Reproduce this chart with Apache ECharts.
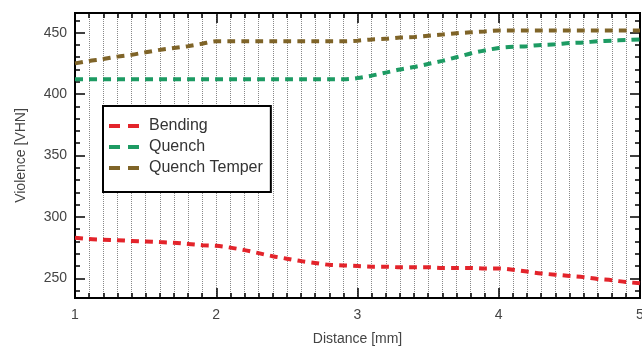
<!DOCTYPE html>
<html>
<head>
<meta charset="utf-8">
<script src="https://cdn.jsdelivr.net/npm/echarts@6/dist/echarts.min.js"></script>
<style>
  html, body { margin: 0; padding: 0; background: #fff; }
  #chart { width: 642px; height: 350px; }
</style>
</head>
<body>
<div id="chart"></div>
<script>
// distance [mm], one sample every 0.1
const distance = [1.0, 1.1, 1.2, 1.3, 1.4, 1.5, 1.6, 1.7, 1.8, 1.9,
    2.0, 2.1, 2.2, 2.3, 2.4, 2.5, 2.6, 2.7, 2.8, 2.9,
    3.0, 3.1, 3.2, 3.3, 3.4, 3.5, 3.6, 3.7, 3.8, 3.9,
    4.0, 4.1, 4.2, 4.3, 4.4, 4.5, 4.6, 4.7, 4.8, 4.9, 5.0]

const bending = [283, 282, 281.5, 281, 280.5, 280, 279.5, 279, 278, 277,
    276.5, 275, 273, 270.5, 268, 266, 264, 262.5, 261, 260.5,
    260, 259.5, 259.5, 259, 259, 259, 258.5, 258.5, 258.5, 258,
    258, 257, 255.5, 254, 253, 252, 251, 249.5, 248.5, 247, 246]

const quench = [412, 412, 412, 412, 412, 412, 412, 412, 412, 412,
    412, 412, 412, 412, 412, 412, 412, 412, 412, 412,
    413, 415, 417.5, 420, 422, 424.5, 427, 430, 433, 435.5,
    437.5, 438.5, 439, 440, 440.5, 441.5, 442, 443, 443.5, 444, 444.5]

const quenchTemper = [425, 427, 428.5, 430.5, 432, 434, 436, 437.5, 439, 441,
    443, 443, 443, 443, 443, 443, 443, 443, 443, 443,
    443.5, 444.5, 445, 446, 446.5, 447.5, 448.5, 449.5, 450.3, 451,
    451.7, 451.7, 451.7, 451.7, 451.7, 451.7, 451.7, 451.7, 451.7, 451.7, 451.7]

const yLabels = [250, 300, 350, 400, 450]
const yMinorTicks = [240, 250, 260, 270, 280, 290, 300, 310, 320, 330, 340, 350, 360,
    370, 380, 390, 400, 410, 420, 430, 440, 450, 460]

const seriesNames = ['Bending', 'Quench', 'Quench Temper']
const seriesColors = ['#e3242b', '#1d9b63', '#7f6428']

const chart = echarts.init(document.getElementById('chart'))

function pairs(ys) {
    return distance.map((x, i) => [x, ys[i]])
}

// two-dash icon, like the legend of the original
const dashIcon = 'path://M0,0h11v4h-11z M19,0h11v4h-11z'

const yRange = { min: 234, max: 466 }

function yTickAxis(pos, values, len, showLabel) {
    return {
        type: 'value',
        position: pos,
        min: yRange.min,
        max: yRange.max,
        axisLine: { show: true, lineStyle: { color: '#000', width: 2 } },
        axisTick: { show: true, inside: true, length: len, customValues: values, lineStyle: { color: '#000', width: 1.5 } },
        axisLabel: showLabel ? { show: true, customValues: yLabels, color: '#444', fontSize: 14, margin: 8, fontFamily: 'Liberation Sans' } : { show: false },
        splitLine: { show: false }
    }
}

const yAxes = [
    Object.assign(yTickAxis('left', yMinorTicks, 5, true), {
        name: 'Violence [VHN]',
        nameLocation: 'middle',
        nameGap: 47,
        nameTextStyle: { color: '#444', fontSize: 14, fontFamily: 'Liberation Sans' }
    }),
    yTickAxis('right', yMinorTicks, 5, false),
    yTickAxis('left', yLabels, 10, false),
    yTickAxis('right', yLabels, 10, false)
]

function xTickAxis(pos, showLabel) {
    return {
        type: 'value',
        position: pos,
        min: 1,
        max: 5,
        interval: 1,
        axisLine: { show: true, lineStyle: { color: '#000', width: 2 } },
        axisTick: { show: true, inside: true, length: 10, lineStyle: { color: '#000', width: 1.5 } },
        minorTick: { show: true, splitNumber: 10, length: 5, lineStyle: { color: '#000', width: 1.5 } },
        axisLabel: showLabel ? { show: true, color: '#444', fontSize: 14, margin: 10, fontFamily: 'Liberation Sans' } : { show: false },
        splitLine: { show: showLabel, lineStyle: { color: '#888', type: 'dotted', width: 1 } },
        minorSplitLine: { show: showLabel, lineStyle: { color: '#888', type: 'dotted', width: 1 } }
    }
}

const xAxes = [
    Object.assign(xTickAxis('bottom', true), {
        name: 'Distance [mm]',
        nameLocation: 'middle',
        nameGap: 34,
        nameTextStyle: { color: '#444', fontSize: 14, fontFamily: 'Liberation Sans' }
    }),
    xTickAxis('top', false)
]

const lineData = [bending, quench, quenchTemper]

const option = {
    animation: false,
    backgroundColor: '#fff',
    grid: {
        left: 75, right: 2, top: 13, bottom: 52,
        outerBoundsMode: 'none',
        containLabel: false,
        show: true, borderColor: '#000', borderWidth: 2, backgroundColor: 'transparent'
    },
    legend: {
        orient: 'vertical',
        left: 103,
        top: 106,
        padding: [12, 8, 16, 6],
        itemGap: 5,
        itemWidth: 32,
        itemHeight: 4,
        backgroundColor: '#fff',
        borderColor: '#000',
        borderWidth: 2,
        textStyle: { color: '#333', fontSize: 16, fontFamily: 'Liberation Sans', padding: [0, 0, 0, 4] },
        data: seriesNames.map((n, i) => ({ name: n, icon: dashIcon, itemStyle: { color: seriesColors[i] } }))
    },
    xAxis: xAxes,
    yAxis: yAxes,
    series: seriesNames.map((n, i) => ({
        name: n,
        type: 'line',
        xAxisIndex: 0,
        yAxisIndex: 0,
        showSymbol: false,
        smooth: 0.3,
        data: pairs(lineData[i]),
        lineStyle: { color: seriesColors[i], width: 4, type: [8, 6] },
        itemStyle: { color: seriesColors[i] }
    }))
}

chart.setOption(option)
</script>
</body>
</html>
